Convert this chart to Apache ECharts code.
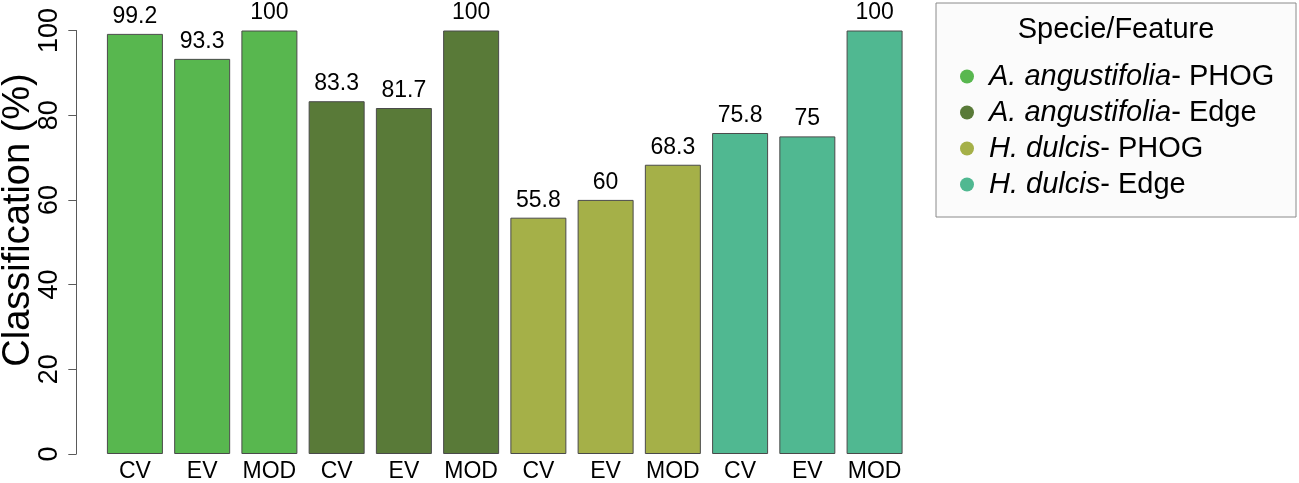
<!DOCTYPE html>
<html>
<head>
<meta charset="utf-8">
<script src="https://cdn.jsdelivr.net/npm/echarts@6/dist/echarts.min.js"></script>
<style>
html,body{margin:0;padding:0;background:#fff;}
#chart{width:1299px;height:483px;}
</style>
</head>
<body>
<div id="chart"></div>
<script>
// ---- data ----
const categories = ['CV','EV','MOD','CV','EV','MOD','CV','EV','MOD','CV','EV','MOD'];
const species = ['A. angustifolia','A. angustifolia','H. dulcis','H. dulcis'];
const features = ['PHOG','Edge','PHOG','Edge'];
const aAngustifoliaPHOG = [99.2, 93.3, 100];
const aAngustifoliaEdge = [83.3, 81.7, 100];
const hDulcisPHOG = [55.8, 60, 68.3];
const hDulcisEdge = [75.8, 75, 100];
const yTicks = [0, 20, 40, 60, 80, 100];
const yTitle = 'Classification (%)';
const legendTitle = 'Specie/Feature';

const groups = [aAngustifoliaPHOG, aAngustifoliaEdge, hDulcisPHOG, hDulcisEdge];
const colors = ['#58b74f', '#597a38', '#a5b048', '#50b891'];
const FONT = '"Liberation Sans", Arial, Helvetica, sans-serif';

const names = species.map((s, i) => s + '- ' + features[i]);

const series = groups.map((vals, g) => {
  const data = categories.map(() => '-');
  vals.forEach((v, k) => { data[g * 3 + k] = v; });
  return {
    type: 'bar',
    name: names[g],
    data: data,
    barWidth: 56,
    barGap: '-100%',
    itemStyle: { color: colors[g], borderColor: '#4a4a4a', borderWidth: 1 },
    label: {
      show: true, position: 'top', distance: 6,
      color: '#000', fontSize: 23, fontFamily: FONT
    }
  };
});

const chart = echarts.init(document.getElementById('chart'), null, { renderer: 'canvas' });
chart.setOption({
  animation: false,
  backgroundColor: '#ffffff',
  grid: { left: 101.3, right: 390.8, top: 30.5, bottom: 28, containLabel: false },
  xAxis: {
    type: 'category',
    data: categories,
    axisLine: { show: false },
    axisTick: { show: false },
    axisLabel: { color: '#000', fontSize: 23, fontFamily: FONT, margin: 6, interval: 0 }
  },
  yAxis: {
    type: 'value',
    min: yTicks[0], max: yTicks[yTicks.length - 1], interval: yTicks[1] - yTicks[0],
    offset: 25,
    splitLine: { show: false },
    axisLine: { show: true, lineStyle: { color: '#5a5a5a', width: 1 } },
    axisTick: { show: true, length: 8, lineStyle: { color: '#5a5a5a' } },
    axisLabel: { rotate: 90, color: '#000', fontSize: 27, fontFamily: FONT, margin: 13 }
  },
  legend: {
    orient: 'vertical',
    left: 955, top: 57,
    itemWidth: 14, itemHeight: 14, itemGap: 7,
    icon: 'circle',
    itemStyle: { borderWidth: 0 },
    data: names,
    formatter: function (name) {
      const i = names.indexOf(name);
      return '{i|' + species[i] + '}{n|- ' + features[i] + '}';
    },
    textStyle: {
      color: '#000', fontSize: 29, fontFamily: FONT, padding: [0, 0, 0, 10],
      rich: {
        i: { fontStyle: 'italic', fontSize: 29, fontFamily: FONT, color: '#000' },
        n: { fontSize: 29, fontFamily: FONT, color: '#000' }
      }
    }
  },
  graphic: [
    {
      type: 'rect', z: -1,
      shape: { x: 936, y: 3, width: 360, height: 214 },
      style: { fill: '#fbfbfb', stroke: '#8a8a8a', lineWidth: 1 }
    },
    {
      type: 'text',
      style: { text: legendTitle, x: 1116, y: 30, textAlign: 'center', textVerticalAlign: 'middle',
               font: '29px ' + FONT, fill: '#000' }
    },
    {
      type: 'text',
      x: 19, y: 220, rotation: Math.PI / 2,
      style: { text: yTitle, x: 0, y: 0, textAlign: 'center', textVerticalAlign: 'middle',
               font: '38px ' + FONT, fill: '#000' }
    }
  ],
  series: series
});
</script>
</body>
</html>
